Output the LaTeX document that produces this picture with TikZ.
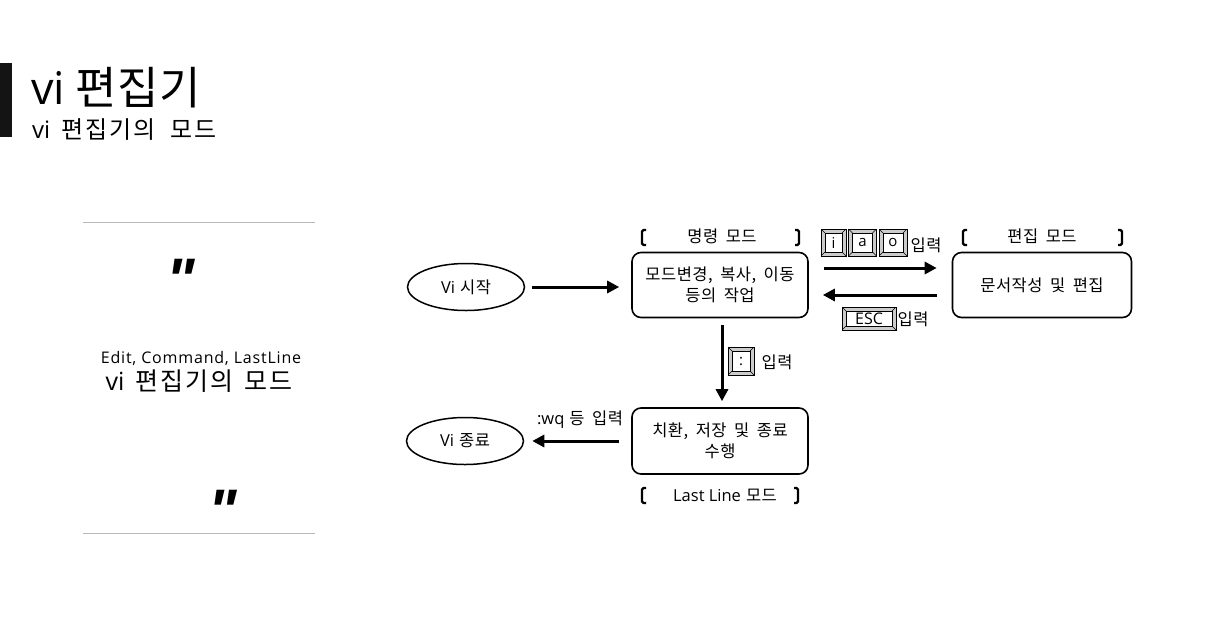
\documentclass[tikz,border=0pt]{standalone}
\usepackage{fontspec}
\setmainfont{Noto Sans CJK KR}[WordSpace=1.8, LetterSpace=3]
\newfontfamily\kwide{Noto Sans CJK KR}[WordSpace=1.8, LetterSpace=8]
\newfontfamily\ktitle{Noto Sans CJK KR}[LetterSpace=2]
\newfontfamily\lat{Open Sans}
\newfontfamily\latwide{Open Sans}[LetterSpace=5]
\newfontfamily\qfont{Liberation Sans}
\usetikzlibrary{arrows.meta,shapes.geometric}
\tikzset{
  modebox/.style={draw, line width=1.6pt, rounded corners=9pt, align=center, inner sep=0pt,
    font=\fontsize{16.5}{21}\selectfont},
  oval/.style={draw, ellipse, line width=1.5pt, inner sep=0pt, minimum width=117pt, minimum height=47pt,
    font=\fontsize{16.5}{18}\selectfont},
  arr/.style={line width=3pt, -{Triangle[length=12pt,width=12pt]}},
  brk/.style={line width=2.4pt, rounded corners=1.5pt},
  lbl/.style={font=\fontsize{16.5}{18}\selectfont, inner sep=0pt},
  keycap/.style={draw, line width=0.8pt, fill=gray!40, inner sep=0pt, font=\lat\fontsize{15}{15}\selectfont,
    path picture={
      \path (path picture bounding box.north west) coordinate (kNW)
            (path picture bounding box.south east) coordinate (kSE)
            (path picture bounding box.north east) coordinate (kNE)
            (path picture bounding box.south west) coordinate (kSW);
      \draw[line width=0.5pt, fill=white] ([shift={(4pt,-4pt)}]kNW) rectangle ([shift={(-4pt,4pt)}]kSE);
      \draw[line width=0.5pt] (kNW) -- ++(4pt,-4pt) (kNE) -- ++(-4pt,-4pt)
            (kSW) -- ++(4pt,4pt) (kSE) -- ++(-4pt,4pt);
    }},
  grayline/.style={draw=gray!55, line width=1pt},
  quote/.style={font=\qfont\bfseries\itshape\fontsize{60}{60}\selectfont, inner sep=0pt, anchor=base}
}
\begin{document}
\begin{tikzpicture}[x=1pt,y=-1pt]
\useasboundingbox[fill=white] (0,0) rectangle (1220,616);

% title
\fill[black!92] (0,63) rectangle (12,137);
\node[anchor=base west, inner sep=0pt, font=\ktitle\fontsize{45}{47}\selectfont] (title) at (31,104) {{\lat vi}\hspace{10pt}편집기};
\node[anchor=base west, inner sep=0pt, font=\kwide\fontsize{24}{26}\selectfont] (subtitle) at (32,138) {{\lat vi}\hspace{11pt}편집기의\hspace{15pt}모드};

% left quote block
\draw[grayline] (83,222) -- (315,222);
\draw[grayline] (83,533) -- (315,533);
\node[quote] (q1) at (181,300) {"};
\node[quote] (q2) at (223,531) {"};
\node[anchor=base, inner sep=0pt, font=\latwide\fontsize{16}{18}\selectfont] (qa) at (201,363) {Edit, Command, LastLine};
\node[anchor=base, inner sep=0pt, font=\kwide\fontsize{25}{28}\selectfont] (qb) at (199,390) {{\lat vi}\hspace{11pt}편집기의\hspace{11pt}모드};

% main nodes
\node[oval] (start) at (466,287) {{\lat Vi}\hspace{5pt}시작};
\node[modebox, minimum width=176pt, minimum height=65pt] (cmd) at (720,285) {모드변경, 복사, 이동\\등의 작업};
\node[modebox, minimum width=179pt, minimum height=65pt] (edit) at (1042,285) {문서작성 및 편집};
\node[modebox, minimum width=176pt, minimum height=66pt] (last) at (720,441) {치환, 저장 및 종료\\수행};
\node[oval] (end) at (465,441) {{\lat Vi}\hspace{5pt}종료};

% mode labels with brackets
\node[lbl] (cmdlbl) at (722,236) {명령 모드};
\draw[brk] (646,230) -- (642,230) -- (642,245) -- (646,245);
\draw[brk] (795,230) -- (799,230) -- (799,245) -- (795,245);
\node[lbl] (editlbl) at (1042,236) {편집 모드};
\draw[brk] (967,230) -- (963,230) -- (963,245) -- (967,245);
\draw[brk] (1118,230) -- (1122,230) -- (1122,245) -- (1118,245);
\node[lbl] (lastlbl) at (725,495) {{\lat Last Line}\hspace{5pt}모드};
\draw[brk] (646,488) -- (642,488) -- (642,503) -- (646,503);
\draw[brk] (794,488) -- (798,488) -- (798,503) -- (794,503);

% connectors
\draw[arr, shorten <=7pt, shorten >=12pt] (start.east) -- (start.east -| cmd.west);
\draw[arr, shorten <=15pt, shorten >=15pt] ([yshift=17pt]cmd.east) -- ([yshift=17pt]edit.west);
\draw[arr, shorten <=15pt, shorten >=14pt] ([yshift=-10pt]edit.west) -- ([yshift=-10pt]cmd.east);
\draw[arr, shorten <=7pt, shorten >=6pt] ([xshift=2pt]cmd.south) -- ([xshift=2pt]last.north);
\draw[arr, shorten <=12pt, shorten >=8pt] (last.west) -- (last.west -| end.east);

% key caps and labels
\node[keycap, minimum width=25pt, minimum height=27pt] (ki) at (833.5,242.5) {i};
\node[keycap, minimum width=28pt, minimum height=27pt] (ka) at (862.5,242.5) {a};
\node[keycap, minimum width=28pt, minimum height=27pt] (ko) at (893,242.5) {o};
\node[lbl] (in1) at (926,245) {입력};
\node[keycap, minimum width=54pt, minimum height=23pt, font=\lat\fontsize{16}{16}\selectfont] (kesc) at (869,318.5) {ESC};
\node[lbl] (in2) at (913,319) {입력};
\node[keycap, minimum width=26pt, minimum height=28pt] (kcol) at (741,361) {:};
\node[lbl] (in3) at (777,362) {입력};
\node[lbl] (wq) at (580,420) {{\lat :wq}\hspace{5pt}등 입력};
\end{tikzpicture}
\end{document}
